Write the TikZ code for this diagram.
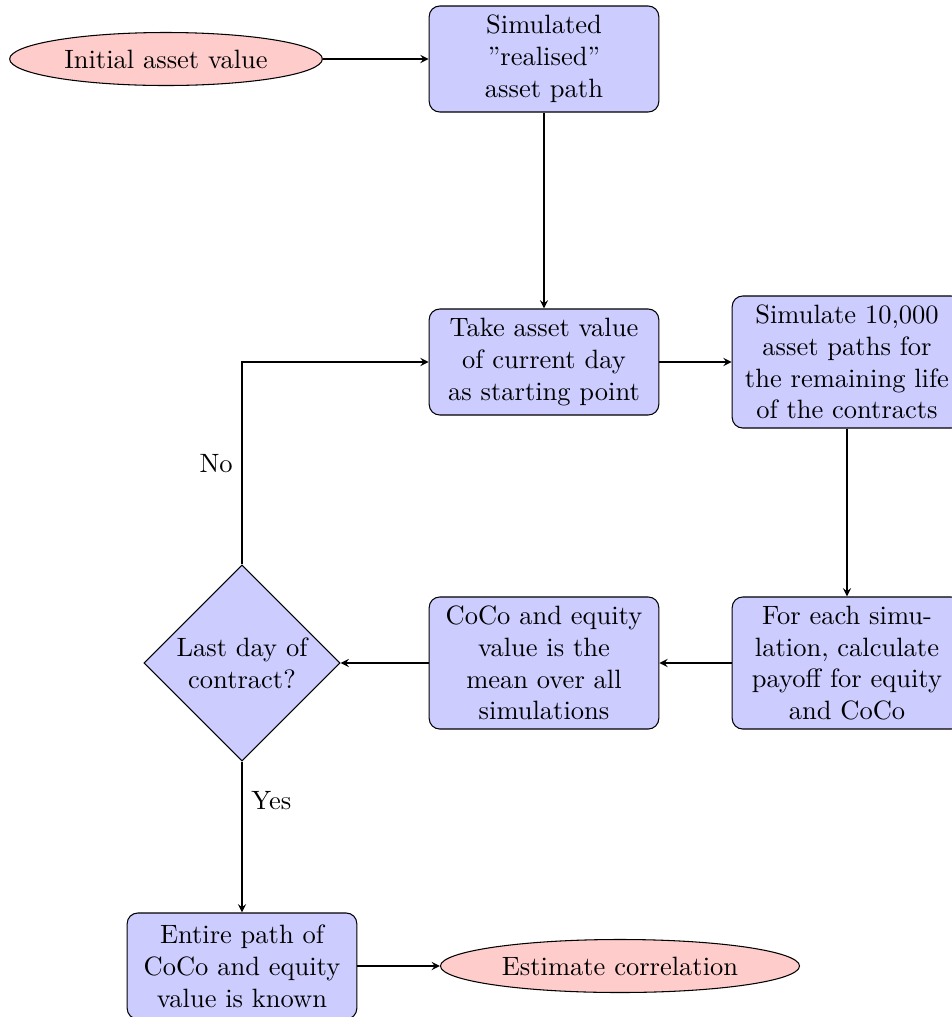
\documentclass[tikz,border=0pt]{standalone}
\usetikzlibrary{shapes.geometric,arrows}
\begin{document}
\begin{tikzpicture}[x=0.37736pt,y=-0.37736pt,
  block/.style={rectangle, draw, fill=blue!20, text width=8em, align=center, rounded corners, minimum height=4em},
  cloud/.style={draw, ellipse, fill=red!20, minimum height=2em},
  decision/.style={diamond, draw, fill=blue!20, text width=5em, align=center, inner sep=0pt, minimum width=74pt, minimum height=74pt},
  conn/.style={draw, -stealth}]
\useasboundingbox (0,0) rectangle (952,1017);
\node[cloud] (init) at (166,59) {Initial asset value};
\node[block] (sim) at (544,59) {Simulated\\''realised''\\asset path};
\node[block] (take) at (544,362) {Take asset value\\of current day\\as starting point};
\node[block] (simk) at (847,362) {Simulate 10,000\\asset paths for\\the remaining life\\of the contracts};
\node[block] (each) at (847,663) {For each simu-\\lation, calculate\\payoff for equity\\and CoCo};
\node[block] (coco) at (544,663) {CoCo and equity\\value is the\\mean over all\\simulations};
\node[decision] (dec) at (242,663) {Last day of\\contract?};
\node[block] (entire) at (242,966) {Entire path of\\CoCo and equity\\value is known};
\node[cloud] (est) at (620,966) {Estimate correlation};
\path[conn] (init) -- (sim);
\path[conn] (sim) -- (take);
\path[conn] (take) -- (simk);
\path[conn] (simk) -- (each);
\path[conn] (each) -- (coco);
\path[conn] (coco) -- (dec);
\path[conn] (dec) -- node[pos=0.26, right] {Yes} (entire);
\path[conn] (dec) |- node[pos=0.25, left] {No} (take);
\path[conn] (entire) -- (est);
\end{tikzpicture}
\end{document}
